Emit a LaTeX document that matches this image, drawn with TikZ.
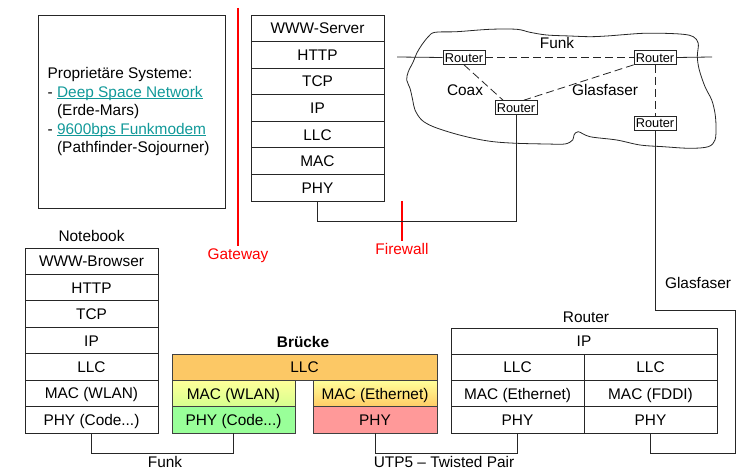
\documentclass[tikz,border=0pt]{standalone}
\usepackage{fontspec}
\setmainfont{Liberation Sans}
\usetikzlibrary{calc,shadows}
\definecolor{linkc}{RGB}{17,153,153}
\definecolor{llcc}{HTML}{FCC865}
\definecolor{ylw}{HTML}{FFFF99}
\definecolor{ylgr}{HTML}{D6FF8F}
\definecolor{orng}{HTML}{FFCC66}
\definecolor{grn}{HTML}{99FF99}
\definecolor{pnk}{HTML}{FF9999}
\definecolor{shd}{HTML}{1F4F4F}
\newcommand\plink[1]{\textcolor{linkc}{\setbox0\hbox{#1}\rlap{\rule[-1.8pt]{\wd0}{0.9pt}}\box0}}
\newcommand\phycode{PHY (Code...)}
\begin{document}
\begin{tikzpicture}[x=1pt,y=-1pt,
  every node/.style={font=\fontsize{15.4}{18.5}\selectfont},
  layer/.style={draw=black!85, line width=0.8pt, inner sep=0pt, minimum height=26.4pt, fill=white, text height=11pt, text depth=0pt},
  lbl/.style={inner sep=0pt, text height=11pt, text depth=0pt},
  wire/.style={draw=black!85, line width=0.8pt},
  redline/.style={draw=red, line width=2.4pt},
  rtr/.style={draw=black!85, line width=0.7pt, fill=white, inner xsep=1.8pt, inner ysep=2.4pt, text height=9.2pt, text depth=0pt, font=\fontsize{12.8}{14}\selectfont,
    drop shadow={shadow xshift=1pt, shadow yshift=-1pt, fill=shd, opacity=1}},
  dsh/.style={wire, dash pattern=on 8pt off 4pt}]
\useasboundingbox (0,0) rectangle (747,470);

% proprietary systems box
\node[draw=black!85, line width=0.8pt, minimum width=187pt, minimum height=193pt, inner sep=0pt] (prop) at (131.5,111.5) {};
\node[anchor=west, align=left, inner sep=0pt] (ptext) at (47.5,112) {Proprietäre Systeme:\\
- \plink{Deep Space Network}\\
\phantom{- }(Erde-Mars)\\
- \plink{9600bps Funkmodem}\\
\phantom{- }(Pathfinder-Sojourner)};

% gateway
\coordinate (g1) at (238,8);
\node[lbl, text=red] (gw) at (238,254) {Gateway};
\draw[redline] (g1) -- ([yshift=2pt]gw.north);

% WWW server stack
\foreach \t [count=\i] in {WWW-Server,HTTP,TCP,IP,LLC,MAC,PHY}
  \node[layer, minimum width=133pt, minimum height=26.57pt] (s\i) at (317.5,{15+26.57*(\i-0.5)}) {\t};

% firewall
\coordinate (f1) at (402,201);
\node[lbl, text=red] (fw) at (402,249) {Firewall};
\draw[redline] (f1) -- ([yshift=2pt]fw.north);

% cloud
\draw[wire] plot[smooth cycle, tension=0.55] coordinates {
(435,32.3) (456.7,31.7) (490,29.3) (516.7,29.3) (530,32.3) (546.7,35) (570,36)
(590,36.7) (606.7,36) (623.3,34.7) (643.3,33.3) (663.3,33.3) (683.3,34.3)
(693.3,36.7) (698.3,43.3) (697.3,56.7) (699.3,70) (705,86.7) (711.7,100)
(715,113.3) (716,126.7) (715,140) (708.3,146.7) (690,148.3) (663.3,146.7)
(640,145) (616.7,140) (590,136.7) (578.3,131.7) (574,135) (572.7,140)
(565,144) (546.7,144) (516.7,143.3) (493.3,141.7) (473.3,138.3) (453.3,133.3)
(433.3,126.7) (421.7,120) (415,110) (412.7,100) (410,88.3) (406.7,80)
(408.3,71.7) (413.3,61.7) (416.7,53.3) (421.7,45) (428.3,36.7)};

\node[lbl] (funkc) at (557,43) {Funk};
\node[lbl] (coax) at (465,90) {Coax};
\node[lbl] (glasc) at (605,90) {Glasfaser};

% routers in cloud
\coordinate (fl) at (397,57);
\coordinate (fr) at (712,57);
\node[rtr] (r1) at (464,57.5) {Router};
\node[rtr] (r2) at (655,57.5) {Router};
\node[rtr] (r3) at (516,107.5) {Router};
\node[rtr] (r4) at (655,123) {Router};
\draw[wire] (fl) -- (r1.west);
\draw[wire] (r2.east) -- (fr);
\draw[dsh] (r1.east) -- (r2.west);
\draw[dsh] (r1.south) -- ([xshift=-13pt]r3.north);
\draw[dsh] (r2.south west) -- ([xshift=8pt]r3.north);
\draw[dsh] (r2.south) -- (r4.north);

% server to cloud router
\draw[wire] (s7.south) -- ++(0,20) -| (r3.south);

% notebook
\node[lbl] (nbl) at (91.5,236) {Notebook};
\foreach \t [count=\i] in {WWW-Browser,HTTP,TCP,IP,LLC,MAC (WLAN),\phycode}
  \node[layer, minimum width=133pt, minimum height=26.43pt] (n\i) at (91.5,{248+26.43*(\i-0.5)}) {\t};

% bridge
\node[lbl] (brl) at (303,342) {\bfseries Brücke};
\node[layer, draw=black!75, fill=llcc, minimum width=265pt, minimum height=26.3pt] (bllc) at (304.5,367.4) {LLC};
\node[layer, draw=black!75, top color=ylw, bottom color=ylgr, minimum width=123pt, minimum height=26.3pt] (bw1) at (233.5,393.6) {MAC (WLAN)};
\node[layer, draw=black!75, fill=grn, minimum width=123pt, minimum height=26.3pt] (bw2) at (233.5,419.9) {\phycode};
\node[layer, draw=black!75, top color=ylw, bottom color=orng, minimum width=124pt, minimum height=26.3pt] (be1) at (375,393.6) {MAC (Ethernet)};
\node[layer, draw=black!75, fill=pnk, minimum width=124pt, minimum height=26.3pt] (be2) at (375,419.9) {PHY};

% router stack
\node[lbl] (rtl) at (586,317) {Router};
\node[layer, minimum width=266pt, minimum height=26.3pt] (rip) at (584,341.1) {IP};
\node[layer, minimum width=133pt, minimum height=26.3pt] (rl1) at (517.5,367.4) {LLC};
\node[layer, minimum width=133pt, minimum height=26.3pt] (rl2) at (517.5,393.6) {MAC (Ethernet)};
\node[layer, minimum width=133pt, minimum height=26.3pt] (rl3) at (517.5,419.9) {PHY};
\node[layer, minimum width=133pt, minimum height=26.3pt] (rr1) at (650.5,367.4) {LLC};
\node[layer, minimum width=133pt, minimum height=26.3pt] (rr2) at (650.5,393.6) {MAC (FDDI)};
\node[layer, minimum width=133pt, minimum height=26.3pt] (rr3) at (650.5,419.9) {PHY};

% bottom connections
\draw[wire] (n7.south) -- ++(0,20) -| (bw2.south);
\draw[wire] (be2.south) -- ++(0,20) -| (rl3.south);
\coordinate (gf) at (735,310);
\draw[wire] (rr3.south) -- ++(0,20) -| (gf) -| (r4.south);

\node[lbl] (funkb) at (165,462) {Funk};
\node[lbl] (utp) at (444,462) {UTP5 -- Twisted Pair};
\node[lbl] (glasr) at (698,283) {Glasfaser};
\end{tikzpicture}
\end{document}
